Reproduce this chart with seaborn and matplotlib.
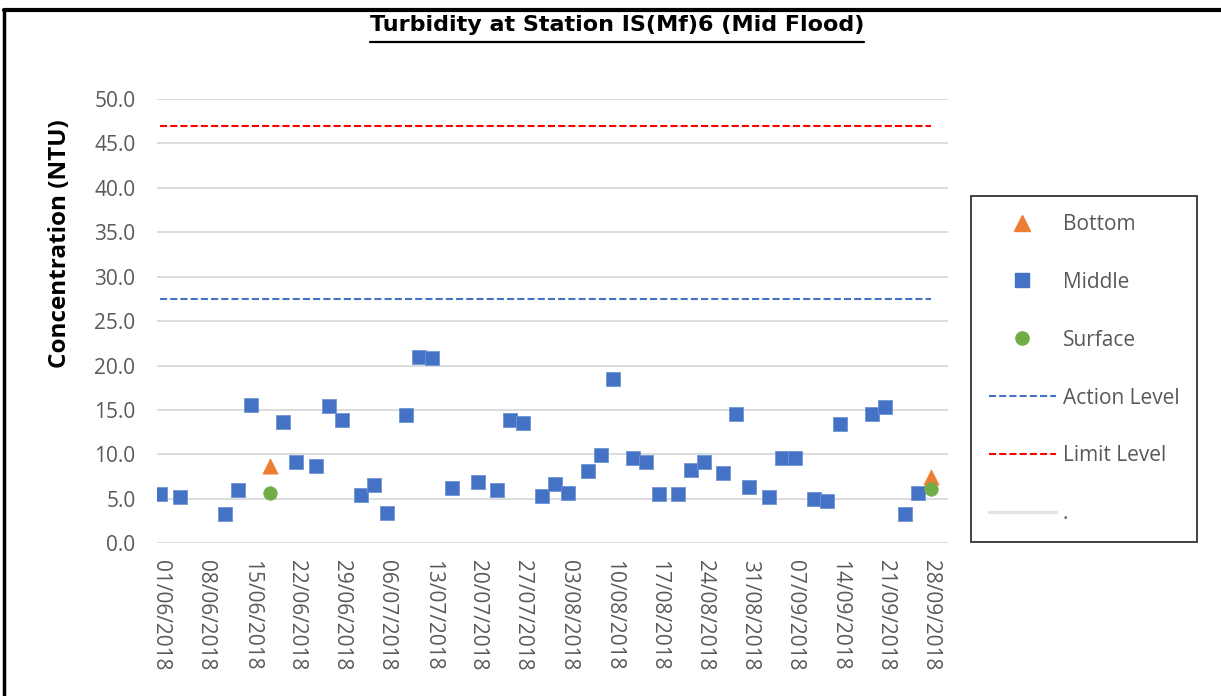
import numpy as np
import pandas as pd
import matplotlib
matplotlib.use("Agg")
import matplotlib.pyplot as plt
from matplotlib.lines import Line2D
import seaborn as sns

# ---- data -------------------------------------------------------------
middle_dates = [
    "2018-06-01", "2018-06-04", "2018-06-11", "2018-06-13", "2018-06-15",
    "2018-06-20", "2018-06-22", "2018-06-25", "2018-06-27", "2018-06-29",
    "2018-07-02", "2018-07-04", "2018-07-06", "2018-07-09", "2018-07-11",
    "2018-07-13", "2018-07-16", "2018-07-20", "2018-07-23", "2018-07-25",
    "2018-07-27", "2018-07-30", "2018-08-01", "2018-08-03", "2018-08-06",
    "2018-08-08", "2018-08-10", "2018-08-13", "2018-08-15", "2018-08-17",
    "2018-08-20", "2018-08-22", "2018-08-24", "2018-08-27", "2018-08-29",
    "2018-08-31", "2018-09-03", "2018-09-05", "2018-09-07", "2018-09-10",
    "2018-09-12", "2018-09-14", "2018-09-19", "2018-09-21", "2018-09-24",
    "2018-09-26",
]
middle_values = [
    5.6, 5.2, 3.3, 6.0, 15.6,
    13.6, 9.2, 8.7, 15.5, 13.9,
    5.4, 6.6, 3.4, 14.4, 21.0,
    20.9, 6.2, 6.9, 6.0, 13.9,
    13.5, 5.3, 6.7, 5.7, 8.1,
    9.9, 18.5, 9.6, 9.2, 5.5,
    5.5, 8.2, 9.1, 7.9, 14.6,
    6.3, 5.2, 9.6, 9.6, 5.0,
    4.8, 13.4, 14.5, 15.3, 3.3,
    5.7,
]
bottom_dates = ["2018-06-18", "2018-09-28"]
bottom_values = [8.7, 7.5]
surface_dates = ["2018-06-18", "2018-09-28"]
surface_values = [5.7, 6.1]

level_dates = ["2018-06-01", "2018-09-28"]
action_level = [27.5, 27.5]
limit_level = [47.0, 47.0]
baseline_values = [0.0, 0.0]

y_ticks = [0, 5, 10, 15, 20, 25, 30, 35, 40, 45, 50]
x_tick_dates = pd.date_range("2018-06-01", "2018-09-28", freq="7D")

# ---- style ------------------------------------------------------------
C_BOTTOM = "#ED7D31"
C_MIDDLE = "#4472C4"
C_SURFACE = "#70AD47"
C_ACTION = "#4472C4"
C_LIMIT = "#FF0000"
C_BASE = "#E3E3E3"
C_GRID = "#D9D9D9"
C_TEXT = "#595959"

sns.set_theme(style="white")
plt.rcParams["font.family"] = ["Open Sans", "DejaVu Sans"]

W, H = 1221, 696
fig = plt.figure(figsize=(W / 100, H / 100), dpi=100)
ax = fig.add_axes([157 / W, 1 - 543.3 / H, (948 - 157) / W, (543.3 - 99) / H])

mid = pd.DataFrame({"date": pd.to_datetime(middle_dates), "value": middle_values})
bot = pd.DataFrame({"date": pd.to_datetime(bottom_dates), "value": bottom_values})
sur = pd.DataFrame({"date": pd.to_datetime(surface_dates), "value": surface_values})
lvl = pd.DataFrame({"date": pd.to_datetime(level_dates),
                    "action": action_level, "limit": limit_level,
                    "base": baseline_values})

dash = (3.4, 1.5)
sns.lineplot(data=lvl, x="date", y="base", ax=ax, color=C_BASE, lw=2.4, zorder=1.5)
sns.lineplot(data=lvl, x="date", y="action", ax=ax, color=C_ACTION, lw=1.5, zorder=2)
sns.lineplot(data=lvl, x="date", y="limit", ax=ax, color=C_LIMIT, lw=1.5, zorder=2)
for line in ax.lines[1:3]:
    line.set_dashes(dash)

sns.scatterplot(data=bot, x="date", y="value", ax=ax, marker="^", s=120,
                color=C_BOTTOM, edgecolor=C_BOTTOM, linewidth=0.5, zorder=3)
sns.scatterplot(data=mid, x="date", y="value", ax=ax, marker="s", s=100,
                color=C_MIDDLE, edgecolor="#6F93D3", linewidth=0.6, zorder=3)
sns.scatterplot(data=sur, x="date", y="value", ax=ax, marker="o", s=95,
                color=C_SURFACE, edgecolor=C_SURFACE, linewidth=0.5, zorder=4)

# axes ranges and ticks
start = pd.Timestamp("2018-06-01")
ax.set_xlim(start - pd.Timedelta(days=0.54), start + pd.Timedelta(days=121.7))
ax.set_ylim(0, 50)
ax.set_yticks(y_ticks)
ax.set_yticklabels([f"{v:.1f}" for v in y_ticks])
ax.set_xticks(x_tick_dates)
ax.set_xticklabels([d.strftime("%d/%m/%Y") for d in x_tick_dates], rotation=270)
ax.tick_params(axis="y", length=0, pad=15.5, labelsize=15, labelcolor=C_TEXT)
ax.tick_params(axis="x", length=0, pad=12, labelsize=15, labelcolor=C_TEXT)
ax.set_xlabel("")
ax.set_ylabel("")
ax.yaxis.grid(True, color=C_GRID, lw=1.3)
ax.xaxis.grid(False)
for sp in ax.spines.values():
    sp.set_visible(False)
ax.set_facecolor("white")

# axis title
fig.text(60 / W, 1 - 244 / H, "Concentration (NTU)", rotation=90,
         ha="center", va="center", fontsize=17.5, fontweight="bold", color="black")

# chart title, underlined; font size fitted to the title width
title = fig.text(617 / W, 1 - 31 / H, "Turbidity at Station IS(Mf)6 (Mid Flood)",
                 ha="center", va="baseline", fontsize=16, fontweight="bold",
                 family=["DejaVu Sans"], color="black")
fig.canvas.draw()
bb = title.get_window_extent()
title.set_fontsize(16 * 494 / bb.width)
fig.canvas.draw()
bb = title.get_window_extent()
uy = 1 - 42 / H
fig.add_artist(Line2D([bb.x0 / W, bb.x1 / W], [uy, uy], color="black", lw=1.6,
                      transform=fig.transFigure))

# legend
handles = [
    Line2D([], [], marker="^", color=C_BOTTOM, ls="None", markersize=11),
    Line2D([], [], marker="s", color=C_MIDDLE, ls="None", markersize=10),
    Line2D([], [], marker="o", color=C_SURFACE, ls="None", markersize=9.5),
    Line2D([], [], color=C_ACTION, lw=1.5, dashes=dash),
    Line2D([], [], color=C_LIMIT, lw=1.5, dashes=dash),
    Line2D([], [], color=C_BASE, lw=2.4),
]
labels = ["Bottom", "Middle", "Surface", "Action Level", "Limit Level", "."]
leg = fig.legend(handles, labels, loc="upper left",
                 bbox_to_anchor=(971 / W, 1 - 196 / H), borderaxespad=0,
                 fontsize=15, labelcolor=C_TEXT, frameon=True, fancybox=False,
                 edgecolor="black", borderpad=0.86, handlelength=3.2,
                 handletextpad=0.35, labelspacing=1.77)
leg.get_frame().set_linewidth(1.3)

# outer chart border (top and left edges)
fig.add_artist(Line2D([4 / W, 1.0], [1 - 10 / H, 1 - 10 / H], color="black",
                      lw=3, transform=fig.transFigure))
fig.add_artist(Line2D([4 / W, 4 / W], [0.0, 1 - 10 / H], color="black",
                      lw=2.5, transform=fig.transFigure))

fig.savefig("out.png", dpi=100, facecolor="white")
